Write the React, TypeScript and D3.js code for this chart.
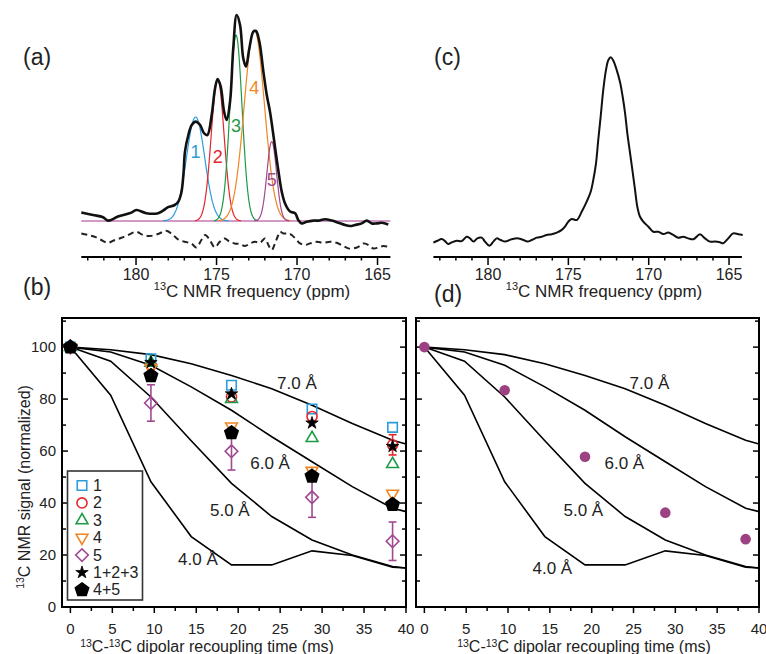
import React from "react";
import * as d3 from "d3";

const FONT = "'Liberation Sans', Arial, Helvetica, sans-serif";

// (a) measured spectrum [ppm, intensity]
const spectrumA: [number, number][] = [
  [183.4, 4.2], [182.67, 3.0], [182.05, 1.9], [181.74, 0.2], [181.12, 2.2], [180.29, 4.2],
  [179.98, 5.5], [179.36, 3.9], [178.63, 3.9], [178.32, 5.2], [178.01, 6.9], [177.6, 8.0],
  [177.39, 9.5], [177.19, 14], [177.05, 24], [176.96, 34.7], [176.75, 43], [176.54, 48],
  [176.29, 49.7], [176.02, 48], [175.78, 43.9], [175.57, 43], [175.3, 53], [175.09, 66.4],
  [174.93, 71], [174.74, 67.2], [174.53, 54.7], [174.37, 50.5], [174.16, 59.7], [173.96, 86.4],
  [173.75, 103], [173.54, 98], [173.34, 81.4], [173.17, 77.2], [172.96, 86.4], [172.71, 94.7],
  [172.55, 95], [172.34, 89.7], [172.09, 74.7], [171.88, 63], [171.68, 54.7], [171.47, 43],
  [171.3, 33], [171.12, 23], [170.95, 14.7], [170.75, 8.9], [170.43, 4.7], [170.12, 3.9],
  [169.92, 0.5], [169.71, -1.2], [169.4, -0.4], [168.99, 0.2], [168.68, 0.2], [168.26, 0.9],
  [167.84, 0.2], [167.43, -0.9], [167.02, -2], [166.71, -2.5], [166.4, -2], [165.98, -1.2],
  [165.67, 0.2], [165.36, -1.2], [165.05, -1.2], [164.74, -0.9], [164.33, -1.7],
];

// (a) fit residual [ppm, intensity]
const residualA: [number, number][] = [
  [183.4, -6.2], [182.98, -7], [182.57, -7.9], [182.16, -9.5], [181.74, -10.9], [181.32, -9.5],
  [180.91, -8.4], [180.5, -7], [179.98, -5.4], [179.57, -7], [179.15, -7.5], [178.63, -6.5],
  [178.12, -4.9], [177.7, -7], [177.39, -9.2], [176.98, -10.4], [176.57, -11.2], [176.25, -13.2],
  [175.94, -9.5], [175.7, -7], [175.42, -9.5], [175.11, -13.2], [174.8, -10.4], [174.49, -8.7],
  [174.18, -10.4], [173.87, -11.2], [173.54, -11.5], [173.23, -12.5], [172.92, -11.2], [172.61, -10.4],
  [172.3, -10.9], [171.99, -8.7], [171.78, -12], [171.57, -14.5], [171.37, -11.2], [171.16, -7],
  [171.06, -5.4], [170.85, -6.2], [170.54, -6.2], [170.33, -7], [170.02, -9.5], [169.81, -11.2],
  [169.5, -12], [169.19, -11.2], [168.78, -10.4], [168.37, -10.9], [167.95, -10.4], [167.54, -10.9],
  [167.12, -12.5], [166.81, -13.7], [166.5, -13.7], [166.19, -12.9], [165.88, -11.2], [165.57, -12],
  [165.26, -13.7], [164.95, -13.2], [164.64, -12.5], [164.33, -12.9],
];

// (a) fitted components
const fitNames = ["1", "2", "3", "4", "5"];
const fitColors = ["#2c9ddb", "#e5262b", "#1d9a48", "#f08522", "#a04a92"];
const fitCenter = [176.3, 174.93, 173.79, 172.65, 171.57];
const fitHeight = [52, 71, 93, 95.5, 39.7];
const fitSigma = [0.57, 0.4, 0.38, 0.63, 0.3];
const fitLabelInt = [31.3, 28.8, 44.3, 63.3, 17.3];

// (c) spectrum [ppm, intensity]
const spectrumC: [number, number][] = [
  [183.4, -1.5], [183.15, -0.4], [182.88, 0.6], [182.68, -0.6], [182.47, -2.2], [182.26, -1.3],
  [181.95, -0.4], [181.64, -0.6], [181.33, 1.8], [181.12, 0.9], [180.91, -0.9], [180.67, 0.9],
  [180.39, 1.3], [180.19, -0.9], [179.92, -3.2], [179.67, -0.9], [179.46, 0.9], [179.21, 0],
  [178.94, -0.9], [178.53, 0.4], [178.11, 0.9], [177.8, 0], [177.55, -0.9], [177.28, 0],
  [176.97, 1.3], [176.66, 1.8], [176.35, 2.8], [176.04, 3.2], [175.72, 4.1], [175.41, 5.6],
  [175.21, 7.4], [175.0, 10.2], [174.79, 11.7], [174.48, 11.1], [174.17, 15.7], [173.86, 21.3],
  [173.61, 26.8], [173.45, 33.3], [173.28, 42.6], [173.14, 55.6], [172.99, 68.5], [172.83, 83.3],
  [172.66, 94.4], [172.51, 100], [172.36, 101.5], [172.2, 99.6], [171.99, 94.4], [171.79, 87.9],
  [171.62, 79.6], [171.47, 70.4], [171.33, 59.3], [171.16, 48.2], [170.99, 37.1], [170.85, 27.8],
  [170.71, 18.5], [170.54, 12.9], [170.34, 10.2], [170.02, 7.4], [169.71, 4.6], [169.4, 4.6],
  [169.09, 3.3], [168.78, 4.1], [168.47, 2.8], [168.16, 1.3], [167.85, 1.8], [167.54, 0.9],
  [167.22, 0.4], [166.81, 3.2], [166.5, 0.9], [166.19, -0.9], [165.88, -0.9], [165.57, -1.3],
  [165.36, -1.8], [165.05, 0.9], [164.74, 3.7], [164.42, 3.2], [164.15, 2.8],
];

const ppmTicks = [180, 175, 170, 165];

// (b) dephasing data
const mixTimes = [0, 9.6, 19.2, 28.8, 38.4];
const sig1 = [100, 95.5, 85.3, 76.2, 69.1];
const sig2 = [100, 93, 80.8, 73.3, 62.4];
const sig3 = [100, 94, 80, 65, 55];
const sig4 = [100, 92, 69.5, 52.4, 43.6];
const sig5 = [100, 78.5, 59.9, 42.2, 25.3];
const sig123 = [100, 94.1, 82, 70.8, 61.8];
const sig45 = [100, 89, 67, 50.3, 39.4];
const err2 = [0, 0, 0, 0, 3.9];
const err5 = [0, 7, 7.2, 7.7, 7.4];
const seriesNames = ["1", "2", "3", "4", "5", "1+2+3", "4+5"];

// (d) data
const sigD = [100, 83.4, 57.8, 36.3, 26.1];

// simulations
const simTimes = [0, 4.8, 9.6, 14.4, 19.2, 24, 28.8, 33.6, 38.4, 40];
const sim40 = [100, 81.5, 48.2, 27.1, 16.2, 16.2, 21.6, 19.8, 15.3, 15];
const sim50 = [100, 94.6, 80.8, 64, 47.6, 34.8, 25.8, 20, 15.6, 15];
const sim60 = [100, 98.1, 93, 84.7, 75.7, 65.5, 55.9, 46.3, 38, 36.7];
const sim70 = [100, 99, 97.1, 93.6, 89.1, 84, 77.6, 70.6, 64.2, 62.7];
const simNames = ["4.0 Å", "5.0 Å", "6.0 Å", "7.0 Å"];
const simLabelB = [[15.2, 18.5], [19.0, 37.3], [23.8, 55.4], [27.0, 86.2]];
const simLabelD = [[15.3, 15.0], [19.0, 37.3], [23.9, 55.4], [26.9, 86.2]];

const timeTicks = [0, 5, 10, 15, 20, 25, 30, 35, 40];
const signalTicks = [0, 20, 40, 60, 80, 100];

// scales
const xA = d3.scaleLinear().domain([183.4, 164.2]).range([81.3, 390.4]);
const yA = d3.scaleLinear().domain([0, 100]).range([221, 21]);
const xC = d3.scaleLinear().domain([183.4, 164.2]).range([433.4, 741.9]);
const yC = d3.scaleLinear().domain([0, 100]).range([240, 60]);
const AXIS_Y = 257;

const xB = d3.scaleLinear().domain([-1, 40]).range([62, 406]);
const xD = d3.scaleLinear().domain([-1, 40]).range([416, 759]);
const yB = d3.scaleLinear().domain([0, 111.2]).range([607, 318]);

const spec = (x: any, y: any) =>
  d3.line<[number, number]>().x((d) => x(d[0])).y((d) => y(d[1])).curve(d3.curveCatmullRom.alpha(0.5));

const pentagon = (r: number) =>
  d3.range(5).map((i) => {
    const a = -Math.PI / 2 + (i * 2 * Math.PI) / 5;
    return `${i ? "L" : "M"}${(r * Math.cos(a)).toFixed(2)},${(r * Math.sin(a)).toFixed(2)}`;
  }).join("") + "Z";

const markers = [
  { d: d3.symbol(d3.symbolSquare, 90)()!, color: "#2c9ddb", fill: "none", rot: 0 },
  { d: d3.symbol(d3.symbolCircle, 80)()!, color: "#e5262b", fill: "none", rot: 0 },
  { d: d3.symbol(d3.symbolTriangle, 60)()!, color: "#1d9a48", fill: "none", rot: 0 },
  { d: d3.symbol(d3.symbolTriangle, 60)()!, color: "#f08522", fill: "none", rot: 180 },
  { d: d3.symbol(d3.symbolSquare, 80)()!, color: "#a04a92", fill: "none", rot: 45 },
  { d: d3.symbol(d3.symbolStar, 48)()!, color: "#000", fill: "#000", rot: 0 },
  { d: pentagon(7), color: "#000", fill: "#000", rot: 0 },
];
const seriesVals = [sig1, sig2, sig3, sig4, sig5, sig123, sig45];

function Marker({ i, x, y }: { i: number; x: number; y: number }) {
  const m = markers[i];
  return (
    <path
      d={m.d}
      transform={`translate(${x},${y}) rotate(${m.rot})`}
      fill={m.fill}
      stroke={m.color}
      strokeWidth={i === 5 ? 0.8 : 1.6}
    />
  );
}

function PanelSpectrum({ x, axisTitleX }: { x: any; axisTitleX: number }) {
  const [x0, x1] = x.range();
  const minor = d3.range(165, 184);
  return (
    <g>
      <line x1={x0} x2={x1} y1={AXIS_Y} y2={AXIS_Y} stroke="#000" strokeWidth={2.2} />
      {minor.map((p) => (
        <line key={p} x1={x(p)} x2={x(p)} y1={AXIS_Y} y2={AXIS_Y + (p % 5 === 0 ? 8 : 3.5)} stroke="#000" strokeWidth={1.5} />
      ))}
      {ppmTicks.map((p) => (
        <text key={p} x={x(p)} y={280} textAnchor="middle" fontSize={16} fontFamily={FONT} fill="#222">
          {p}
        </text>
      ))}
      <text x={axisTitleX} y={297} textAnchor="middle" fontSize={17} fontFamily={FONT} fill="#222">
        <tspan fontSize={11} dy={-7}>13</tspan>
        <tspan dy={7}>C NMR frequency (ppm)</tspan>
      </text>
    </g>
  );
}

function PanelDecay({ x, showYLabels, titleX }: { x: any; showYLabels: boolean; titleX: number }) {
  const [x0, x1] = x.range();
  const [yb, yt] = yB.range();
  const simLine = d3.line<number>().x((_, i) => x(simTimes[i])).y((d) => yB(d));
  return (
    <g>
      {d3.range(0, 111, 10).map((v) => (
        <g key={v}>
          <line x1={x0} x2={x0 + (v % 20 === 0 ? 6 : 4)} y1={yB(v)} y2={yB(v)} stroke="#000" strokeWidth={1.5} />
          <line x1={x1} x2={x1 - (v % 20 === 0 ? 6 : 4)} y1={yB(v)} y2={yB(v)} stroke="#000" strokeWidth={1.5} />
        </g>
      ))}
      {d3.range(0, 40.01, 2.5).map((t) => (
        <line key={t} x1={x(t)} x2={x(t)} y1={yb} y2={yb + (t % 5 === 0 ? 6 : 4)} stroke="#000" strokeWidth={1.5} />
      ))}
      <rect x={x0} y={yt} width={x1 - x0} height={yb - yt} fill="none" stroke="#000" strokeWidth={2} />
      {timeTicks.map((t) => (
        <text key={t} x={x(t)} y={634} textAnchor="middle" fontSize={15} fontFamily={FONT} fill="#222">
          {t}
        </text>
      ))}
      {showYLabels &&
        signalTicks.map((v) => (
          <text key={v} x={56} y={yB(v) + 5} textAnchor="end" fontSize={15} fontFamily={FONT} fill="#222">
            {v}
          </text>
        ))}
      <text x={titleX} y={652} textAnchor="middle" fontSize={16} fontFamily={FONT} fill="#222">
        <tspan fontSize={10.5} dy={-5}>13</tspan>
        <tspan dy={5}>C-</tspan>
        <tspan fontSize={10.5} dy={-5}>13</tspan>
        <tspan dy={5}>C dipolar recoupling time (ms)</tspan>
      </text>
      {[sim40, sim50, sim60, sim70].map((s, i) => (
        <path key={i} d={simLine(s)!} fill="none" stroke="#000" strokeWidth={1.6} />
      ))}
    </g>
  );
}

export default function App() {
  const W = 766;
  const H = 654;
  const lineA = spec(xA, yA);
  const lineC = spec(xC, yC);

  return (
    <svg width={W} height={H} style={{ position: "absolute", left: 0, top: 0, background: "#fff" }}>
      {/* (a) */}
      <line x1={xA.range()[0]} x2={xA.range()[1]} y1={yA(0)} y2={yA(0)} stroke="#c378b4" strokeWidth={1.5} />
      {fitCenter.map((c, i) => {
        const pts = d3.range(c - 3.6 * fitSigma[i], c + 3.6 * fitSigma[i], 0.03).map(
          (p) => [p, fitHeight[i] * Math.exp(-((p - c) ** 2) / (2 * fitSigma[i] ** 2))] as [number, number]
        );
        return <path key={i} d={lineA(pts)!} fill="none" stroke={fitColors[i]} strokeWidth={1.2} />;
      })}
      <path d={lineA(residualA)!} fill="none" stroke="#222" strokeWidth={2} strokeDasharray="6,4" />
      <path d={lineA(spectrumA)!} fill="none" stroke="#111" strokeWidth={2.6} />
      {fitNames.map((n, i) => (
        <text key={n} x={xA(fitCenter[i])} y={yA(fitLabelInt[i])} textAnchor="middle" fontSize={18} fontFamily={FONT} fill={fitColors[i]}>
          {n}
        </text>
      ))}
      <PanelSpectrum x={xA} axisTitleX={252} />

      {/* (c) */}
      <path d={lineC(spectrumC)!} fill="none" stroke="#111" strokeWidth={2} />
      <PanelSpectrum x={xC} axisTitleX={604} />

      {/* (b) */}
      <PanelDecay x={xB} showYLabels={true} titleX={207} />
      {simNames.map((n, i) => (
        <text key={n} x={xB(simLabelB[i][0])} y={yB(simLabelB[i][1]) + 6} textAnchor="middle" fontSize={17} fontFamily={FONT} fill="#222">
          {n}
        </text>
      ))}
      {mixTimes.map((t, j) => (
        <g key={"e" + j}>
          {err5[j] > 0 && (
            <g stroke="#a04a92" strokeWidth={1.6}>
              <line x1={xB(t)} x2={xB(t)} y1={yB(sig5[j] - err5[j])} y2={yB(sig5[j] + err5[j])} />
              <line x1={xB(t) - 4} x2={xB(t) + 4} y1={yB(sig5[j] - err5[j])} y2={yB(sig5[j] - err5[j])} />
              <line x1={xB(t) - 4} x2={xB(t) + 4} y1={yB(sig5[j] + err5[j])} y2={yB(sig5[j] + err5[j])} />
            </g>
          )}
          {err2[j] > 0 && (
            <g stroke="#e5262b" strokeWidth={1.6}>
              <line x1={xB(t)} x2={xB(t)} y1={yB(sig2[j] - err2[j])} y2={yB(sig2[j] + err2[j])} />
              <line x1={xB(t) - 4} x2={xB(t) + 4} y1={yB(sig2[j] - err2[j])} y2={yB(sig2[j] - err2[j])} />
              <line x1={xB(t) - 4} x2={xB(t) + 4} y1={yB(sig2[j] + err2[j])} y2={yB(sig2[j] + err2[j])} />
            </g>
          )}
        </g>
      ))}
      {seriesVals.map((s, i) =>
        s.map((v, j) => <Marker key={i + "-" + j} i={i} x={xB(mixTimes[j])} y={yB(v)} />)
      )}
      {/* legend */}
      <rect x={67.5} y={471} width={75} height={129} fill="#fff" stroke="#333" strokeWidth={1.6} />
      {seriesNames.map((n, i) => (
        <g key={n}>
          <Marker i={i} x={82} y={485.5 + i * 17.4} />
          <text x={93} y={485.5 + i * 17.4 + 5.5} fontSize={16} fontFamily={FONT} fill="#222">
            {n}
          </text>
        </g>
      ))}
      <text transform="translate(30,487) rotate(-90)" textAnchor="middle" fontSize={16} fontFamily={FONT} fill="#222">
        <tspan fontSize={10.5} dy={-6}>13</tspan>
        <tspan dy={6}>C NMR signal (normalized)</tspan>
      </text>

      {/* (d) */}
      <PanelDecay x={xD} showYLabels={false} titleX={584} />
      {simNames.map((n, i) => (
        <text key={n} x={xD(simLabelD[i][0])} y={yB(simLabelD[i][1]) + 6} textAnchor="middle" fontSize={17} fontFamily={FONT} fill="#222">
          {n}
        </text>
      ))}
      {sigD.map((v, j) => (
        <circle key={j} cx={xD(mixTimes[j])} cy={yB(v)} r={5.3} fill="#9c4282" />
      ))}

      {/* panel labels */}
      <text x={23} y={65} fontSize={23} fontFamily={FONT} fill="#222">(a)</text>
      <text x={23} y={295} fontSize={23} fontFamily={FONT} fill="#222">(b)</text>
      <text x={434} y={65} fontSize={23} fontFamily={FONT} fill="#222">(c)</text>
      <text x={434} y={302} fontSize={23} fontFamily={FONT} fill="#222">(d)</text>
    </svg>
  );
}
